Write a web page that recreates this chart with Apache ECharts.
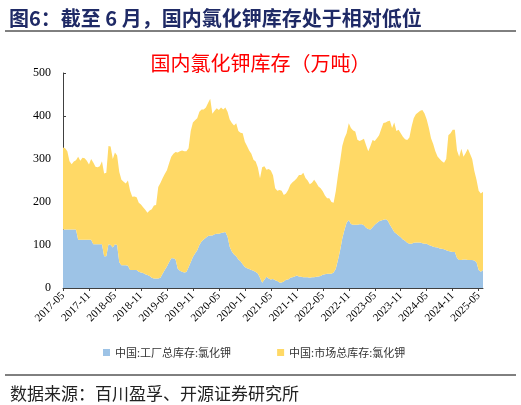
<!DOCTYPE html>
<html>
<head>
<meta charset="utf-8">
<script src="https://cdn.jsdelivr.net/npm/echarts@6/dist/echarts.min.js"></script>
<style>
  html, body { margin: 0; padding: 0; background: #fff; }
  #main { width: 521px; height: 405px; }
</style>
</head>
<body>
<div id="main"></div>
<script>
// 半月度數據，起點 2017-05
const startYear = 2017;
const startMonth = 5;

// 中国:工厂总库存:氯化钾（万吨）
const factoryStock = [
  136, 136, 136, 136, 136, 136, 136, 112, 112, 112, 112, 112, 112, 112, 102, 102, 102, 102, 102, 74,
  74, 102, 100, 94, 102, 100, 60, 53, 53, 53, 52, 42, 42, 42, 42, 38, 36, 35, 32, 30,
  28, 24, 22, 22, 22, 24, 33, 42, 50, 60, 69, 69, 66, 45, 40, 38, 36, 37, 48, 60,
  72, 80, 88, 100, 108, 113, 117, 121, 122, 122, 125, 126, 126, 128, 129, 130, 120, 96, 85, 78,
  74, 66, 62, 55, 49, 46, 44, 42, 40, 37, 34, 24, 12, 19, 26, 22, 20, 21, 18, 16,
  13, 13, 15, 19, 20, 24, 25, 27, 29, 27, 26, 25, 25, 25, 24, 25, 25, 26, 27, 28,
  31, 32, 33, 33, 33, 36, 45, 65, 88, 115, 135, 152, 158, 149, 147, 147, 147, 148, 148, 146,
  140, 137, 136, 141, 147, 151, 155, 157, 159, 160, 157, 147, 139, 130, 126, 122, 118, 113, 110, 105,
  103, 103, 105, 106, 106, 106, 104, 103, 103, 100, 98, 96, 95, 94, 92, 91, 90, 88, 86, 85,
  84, 84, 70, 65, 65, 66, 66, 65, 65, 65, 64, 60, 42, 38, 42
];

// 中国:市场总库存:氯化钾（万吨）
const marketStock = [
  191, 189, 182, 159, 152, 158, 161, 193, 184, 191, 190, 184, 175, 188, 190, 180, 179, 181, 193, 192,
  194, 228, 229, 206, 213, 208, 210, 199, 194, 190, 198, 184, 170, 171, 169, 160, 158, 153, 150, 145,
  152, 159, 170, 171, 213, 220, 222, 223, 224, 230, 236, 243, 250, 270, 278, 282, 282, 281, 277, 305,
  313, 310, 307, 310, 307, 302, 303, 309, 318, 283, 287, 292, 288, 292, 286, 290, 290, 296, 299, 300,
  309, 299, 299, 305, 291, 284, 276, 270, 258, 257, 246, 231, 269, 264, 249, 255, 253, 241, 214, 210,
  215, 213, 201, 201, 208, 216, 221, 223, 226, 236, 237, 243, 231, 225, 217, 220, 227, 219, 209, 204,
  194, 183, 176, 176, 167, 162, 180, 197, 207, 215, 213, 208, 225, 223, 219, 217, 198, 194, 196, 201,
  192, 181, 194, 203, 195, 197, 200, 213, 225, 225, 231, 242, 233, 255, 239, 246, 242, 239, 236, 239,
  247, 272, 290, 298, 302, 306, 310, 303, 289, 272, 250, 239, 223, 212, 208, 204, 201, 212, 269, 275,
  284, 284, 250, 240, 259, 239, 248, 259, 247, 235, 208, 192, 184, 182, 182
];

const yTicks = [0, 100, 200, 300, 400, 500];

// 日期類別（上半月 / 下半月）
const categories = [];
for (let i = 0; i < factoryStock.length; i++) {
  const m = startMonth - 1 + Math.floor(i / 2);
  const y = startYear + Math.floor(m / 12);
  const mm = String(m % 12 + 1).padStart(2, '0');
  categories.push(y + '-' + mm + (i % 2 === 0 ? '' : 'b'));
}

const myChart = echarts.init(document.getElementById('main'));
let option;

option = {
  animation: false,
  backgroundColor: '#fff',
  title: [
    {
      text: '图6：截至 6 月，国内氯化钾库存处于相对低位',
      left: 4,
      top: 3,
      textStyle: {
        fontFamily: 'Noto Sans CJK SC',
        fontSize: 20,
        fontWeight: 'bold',
        color: '#1F2A66'
      }
    },
    {
      text: '国内氯化钾库存（万吨）',
      left: 'center',
      top: 48,
      textStyle: {
        fontFamily: 'Noto Sans CJK SC',
        fontSize: 20,
        fontWeight: 'normal',
        color: '#FF0000'
      }
    },
    {
      text: '数据来源：百川盈孚、开源证券研究所',
      left: 5,
      top: 380,
      textStyle: {
        fontFamily: 'Noto Sans CJK SC',
        fontSize: 17,
        fontWeight: 'normal',
        color: '#222'
      }
    }
  ],
  graphic: [
    { type: 'line', shape: { x1: 5, y1: 31, x2: 516, y2: 31 }, style: { stroke: '#000', lineWidth: 1 } },
    { type: 'line', shape: { x1: 5, y1: 375, x2: 516, y2: 375 }, style: { stroke: '#000', lineWidth: 1 } }
  ],
  legend: {
    left: 98,
    top: 342,
    itemGap: 46,
    itemWidth: 7,
    itemHeight: 7,
    icon: 'rect',
    textStyle: {
      fontFamily: 'Noto Sans CJK SC',
      fontSize: 11,
      color: '#333'
    },
    data: ['中国:工厂总库存:氯化钾', '中国:市场总库存:氯化钾']
  },
  grid: {
    left: 63,
    right: 38,
    top: 73,
    bottom: 117,
    containLabel: false
  },
  xAxis: {
    type: 'category',
    boundaryGap: false,
    data: categories,
    axisLine: { lineStyle: { color: '#404040', width: 1 } },
    axisTick: {
      interval: 11,
      length: 3,
      lineStyle: { color: '#404040' }
    },
    axisLabel: {
      interval: 11,
      rotate: 45,
      margin: 6,
      fontFamily: 'Liberation Serif',
      fontSize: 11,
      color: '#000'
    }
  },
  yAxis: {
    type: 'value',
    min: yTicks[0],
    max: yTicks[yTicks.length - 1],
    interval: 100,
    axisLine: { show: true, lineStyle: { color: '#404040', width: 1 } },
    axisTick: { show: true, inside: true, length: 3, lineStyle: { color: '#404040' } },
    splitLine: { show: false },
    axisLabel: {
      margin: 12,
      fontFamily: 'Liberation Serif',
      fontSize: 12,
      color: '#000'
    }
  },
  series: [
    {
      name: '中国:工厂总库存:氯化钾',
      type: 'line',
      stack: 'total',
      symbol: 'none',
      lineStyle: { width: 0 },
      areaStyle: { color: '#9DC3E6', opacity: 1 },
      itemStyle: { color: '#9DC3E6' },
      data: factoryStock
    },
    {
      name: '中国:市场总库存:氯化钾',
      type: 'line',
      stack: 'total',
      symbol: 'none',
      lineStyle: { width: 0 },
      areaStyle: { color: '#FFD966', opacity: 1 },
      itemStyle: { color: '#FFD966' },
      data: marketStock
    }
  ]
};
// 設定圖表
option && myChart.setOption(option);
</script>
</body>
</html>
